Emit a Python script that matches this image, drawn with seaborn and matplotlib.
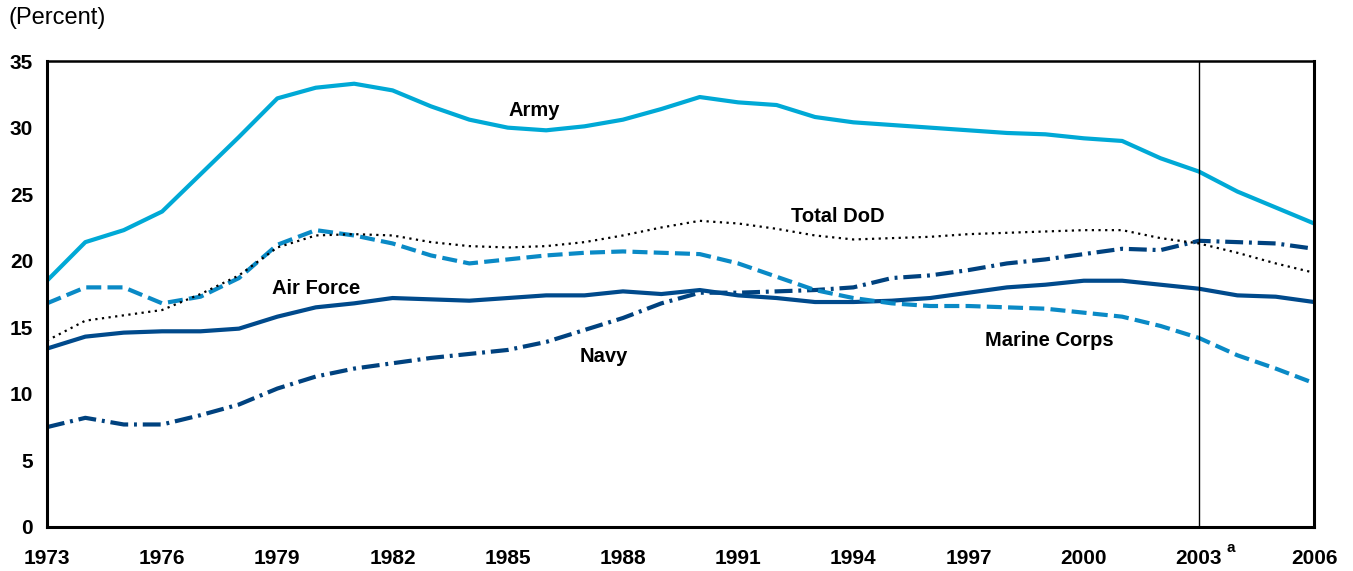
import numpy as np
import pandas as pd
import matplotlib
matplotlib.use("Agg")
import matplotlib.pyplot as plt
import seaborn as sns

years = list(range(1973, 2007))

army = [18.5, 21.4, 22.3, 23.7, 26.5, 29.3, 32.2, 33.0, 33.3, 32.8, 31.6, 30.6,
        30.0, 29.8, 30.1, 30.6, 31.4, 32.3, 31.9, 31.7, 30.8, 30.4, 30.2, 30.0,
        29.8, 29.6, 29.5, 29.2, 29.0, 27.7, 26.7, 25.2, 24.0, 22.8]
total_dod = [14.0, 15.5, 15.9, 16.3, 17.5, 18.9, 21.0, 21.9, 22.0, 21.9, 21.4, 21.1,
             21.0, 21.1, 21.4, 21.9, 22.5, 23.0, 22.8, 22.4, 21.9, 21.6, 21.7, 21.8,
             22.0, 22.1, 22.2, 22.3, 22.3, 21.7, 21.3, 20.6, 19.8, 19.1]
marine = [16.8, 18.0, 18.0, 16.8, 17.3, 18.7, 21.2, 22.3, 21.9, 21.3, 20.4, 19.8,
          20.1, 20.4, 20.6, 20.7, 20.6, 20.5, 19.8, 18.8, 17.8, 17.2, 16.8, 16.6,
          16.6, 16.5, 16.4, 16.1, 15.8, 15.1, 14.2, 12.9, 11.9, 10.8]
air_force = [13.4, 14.3, 14.6, 14.7, 14.7, 14.9, 15.8, 16.5, 16.8, 17.2, 17.1, 17.0,
             17.2, 17.4, 17.4, 17.7, 17.5, 17.8, 17.4, 17.2, 16.9, 16.9, 17.0, 17.2,
             17.6, 18.0, 18.2, 18.5, 18.5, 18.2, 17.9, 17.4, 17.3, 16.9]
navy = [7.5, 8.2, 7.7, 7.7, 8.4, 9.2, 10.4, 11.3, 11.9, 12.3, 12.7, 13.0,
        13.3, 13.9, 14.8, 15.7, 16.8, 17.6, 17.6, 17.7, 17.8, 18.0, 18.7, 18.9,
        19.3, 19.8, 20.1, 20.5, 20.9, 20.8, 21.5, 21.4, 21.3, 20.9]

tick_years = list(range(1973, 2007, 3))
y_ticks = [0, 5, 10, 15, 20, 25, 30, 35]

df = pd.DataFrame({"year": years, "Army": army, "Total DoD": total_dod,
                   "Marine Corps": marine, "Air Force": air_force, "Navy": navy})

sns.set_style("white")
plt.rcParams["font.family"] = ["Liberation Sans", "DejaVu Sans"]
plt.rcParams["text.color"] = "black"
plt.rcParams["xtick.color"] = "black"
plt.rcParams["ytick.color"] = "black"

fig = plt.figure(figsize=(13.53, 5.71), dpi=100)
ax = fig.add_axes([0.0347, 0.0771, 0.9366, 0.8159])

styles = {
    "Army": dict(color="#00a9d6", lw=3.0, dashes=None),
    "Total DoD": dict(color="black", lw=1.6, dashes=(1, 2.0)),
    "Marine Corps": dict(color="#0a8ac6", lw=3.0, dashes=(3.6, 1.5)),
    "Air Force": dict(color="#004a8c", lw=3.0, dashes=None),
    "Navy": dict(color="#00427f", lw=3.0, dashes=(4.3, 1.4, 0.7, 1.4)),
}
for name in ["Navy", "Air Force", "Marine Corps", "Total DoD", "Army"]:
    st = styles[name]
    sns.lineplot(data=df, x="year", y=name, ax=ax, color=st["color"],
                 linewidth=st["lw"], legend=False)
    if st["dashes"]:
        ax.get_lines()[-1].set_dashes(st["dashes"])

ax.axvline(2003, color="black", lw=1.0)

ax.set_xlim(1973, 2006)
ax.set_ylim(0, 35)
ax.set_xticks(tick_years)
ax.set_xticklabels([str(y) for y in tick_years], fontsize=15, fontweight="bold")
ax.set_yticks(y_ticks)
ax.set_yticklabels([str(y) for y in y_ticks], fontsize=15, fontweight="bold")
ax.tick_params(axis="x", direction="in", length=9, width=1.0, pad=16, top=False)
ax.tick_params(axis="y", direction="in", length=8, width=1.0, pad=10, right=False)
ax.set_xlabel("")
ax.set_ylabel("")
for side in ["bottom", "left", "right"]:
    ax.spines[side].set_linewidth(2.2)
    ax.spines[side].set_color("black")
ax.spines["top"].set_linewidth(1.8)
ax.spines["top"].set_color("black")

# superscript on 2003
ax.text(2003.83, -1.55, "a", fontsize=11, fontweight="bold", ha="center", va="center",
        clip_on=False)

lab = dict(fontsize=14.5, fontweight="bold", ha="center", va="center")
ax.text(1985.7, 31.3, "Army", **lab)
ax.text(1993.6, 23.3, "Total DoD", **lab)
ax.text(1980.0, 17.9, "Air Force", **lab)
ax.text(1987.5, 12.8, "Navy", **lab)
ax.text(1999.1, 14.0, "Marine Corps", **lab)

fig.text(8 / 1353, 1 - 18 / 571, "(Percent)", fontsize=17, ha="left", va="center")

fig.savefig("out.png", dpi=100)
